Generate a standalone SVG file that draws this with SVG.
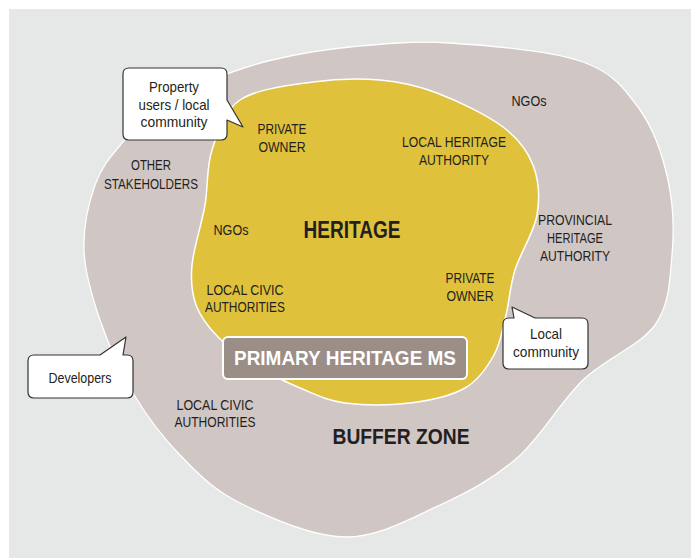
<svg xmlns="http://www.w3.org/2000/svg" width="691" height="558" viewBox="0 0 691 558">
<style>
.t{font-family:"Liberation Sans",Arial,sans-serif;font-size:14.5px;fill:#231f20;text-anchor:middle}
.b{font-family:"Liberation Sans",Arial,sans-serif;font-weight:bold;fill:#231f20;text-anchor:middle}
.w{fill:#ffffff}
.bubble{fill:#ffffff;stroke:#333333;stroke-width:1.2;stroke-linejoin:round}
</style>
<rect x="0" y="0" width="691" height="558" fill="#ffffff"/>
<rect x="9" y="9" width="682" height="549" fill="#e6e7e7"/>
<g id="buffer-zone">
<path fill="#d0c6c4" stroke="#ffffff" stroke-width="1.3" d="M450,43 C488.8,45.5 551.3,50.8 583,62 C614.7,73.2 625.8,90.3 640,110 C654.2,129.7 662.7,155.8 668,180 C673.3,204.2 674.2,230.8 672,255 C669.8,279.2 669.8,304.2 655,325 C640.2,345.8 606,357.8 583,380 C560,402.2 540.8,437.2 517,458 C493.2,478.8 468.7,491.8 440,505 C411.3,518.2 378.3,537.3 345,537 C311.7,536.7 267.5,516.7 240,503 C212.5,489.3 197.8,473.3 180,455 C162.2,436.7 146.3,415.5 133,393 C119.7,370.5 108.2,343.8 100,320 C91.8,296.2 84.8,272.5 84,250 C83.2,227.5 88.7,202.8 95,185 C101.3,167.2 110.8,156.2 122,143 C133.2,129.8 147,116.5 162,106 C177,95.5 193.7,87.7 212,80 C230.3,72.3 249,65.5 272,60 C295,54.5 320.3,49.8 350,47 C379.7,44.2 411.2,40.5 450,43 Z"/>
<text class="t" x="529" y="106" textLength="35" lengthAdjust="spacingAndGlyphs">NGOs</text>
<text class="t" x="151" y="170" textLength="40" lengthAdjust="spacingAndGlyphs">OTHER</text>
<text class="t" x="151" y="189" textLength="94" lengthAdjust="spacingAndGlyphs">STAKEHOLDERS</text>
<text class="t" x="575" y="225" textLength="74" lengthAdjust="spacingAndGlyphs">PROVINCIAL</text>
<text class="t" x="575" y="243" textLength="56" lengthAdjust="spacingAndGlyphs">HERITAGE</text>
<text class="t" x="575" y="261" textLength="70" lengthAdjust="spacingAndGlyphs">AUTHORITY</text>
<text class="t" x="215" y="410" textLength="77" lengthAdjust="spacingAndGlyphs">LOCAL CIVIC</text>
<text class="t" x="215" y="427" textLength="81" lengthAdjust="spacingAndGlyphs">AUTHORITIES</text>
<text class="b" x="401" y="444" font-size="21.5" textLength="137" lengthAdjust="spacingAndGlyphs">BUFFER ZONE</text>
</g>
<g id="heritage">
<path fill="#dfc13b" stroke="#ffffff" stroke-width="1.5" d="M240,100 C256.8,88.7 289.7,85.3 313,82 C336.3,78.7 359.3,78.2 380,80 C400.7,81.8 416.5,85.2 437,93 C457.5,100.8 487,115 503,127 C519,139 527.3,150.3 533,165 C538.7,179.7 540,197.5 537,215 C534,232.5 520.2,253.3 515,270 C509.8,286.7 509.5,300.8 506,315 C502.5,329.2 500.8,342.8 494,355 C487.2,367.2 479,380 465,388 C451,396 430,400.5 410,403 C390,405.5 363.3,405.5 345,403 C326.7,400.5 315,394.3 300,388 C285,381.7 268.7,373.5 255,365 C241.3,356.5 227.8,347 218,337 C208.2,327 200.3,317 196,305 C191.7,293 190.5,281.7 192,265 C193.5,248.3 201.7,224.2 205,205 C208.3,185.8 206.2,167.5 212,150 C217.8,132.5 223.2,111.3 240,100 Z"/>
<text class="t" x="282" y="134" textLength="49" lengthAdjust="spacingAndGlyphs">PRIVATE</text>
<text class="t" x="282" y="152" textLength="47" lengthAdjust="spacingAndGlyphs">OWNER</text>
<text class="t" x="454" y="147" textLength="104" lengthAdjust="spacingAndGlyphs">LOCAL HERITAGE</text>
<text class="t" x="454" y="165" textLength="70" lengthAdjust="spacingAndGlyphs">AUTHORITY</text>
<text class="t" x="231" y="235" textLength="35" lengthAdjust="spacingAndGlyphs">NGOs</text>
<text class="b" x="352" y="238" font-size="23" textLength="97" lengthAdjust="spacingAndGlyphs">HERITAGE</text>
<text class="t" x="245" y="295" textLength="77" lengthAdjust="spacingAndGlyphs">LOCAL CIVIC</text>
<text class="t" x="245" y="312" textLength="80" lengthAdjust="spacingAndGlyphs">AUTHORITIES</text>
<text class="t" x="470" y="283" textLength="49" lengthAdjust="spacingAndGlyphs">PRIVATE</text>
<text class="t" x="470" y="301" textLength="47" lengthAdjust="spacingAndGlyphs">OWNER</text>
</g>
<g id="primary-heritage-ms">
<rect x="223" y="337" width="244" height="42" rx="5" fill="#9b8e87" stroke="#ffffff" stroke-width="2"/>
<text class="b w" x="345" y="365" font-size="20" textLength="222" lengthAdjust="spacingAndGlyphs">PRIMARY HERITAGE MS</text>
</g>
<g id="bubble-property-users">
<path class="bubble" d="M129,68 H221 Q227,68 227,74 V100 L243,127 L227,120 V134 Q227,140 221,140 H129 Q123,140 123,134 V74 Q123,68 129,68 Z"/>
<text class="t" x="174" y="92" textLength="50" lengthAdjust="spacingAndGlyphs">Property</text>
<text class="t" x="174" y="110" textLength="71" lengthAdjust="spacingAndGlyphs">users / local</text>
<text class="t" x="174" y="127" textLength="67" lengthAdjust="spacingAndGlyphs">community</text>
</g>
<g id="bubble-developers">
<path class="bubble" d="M34,355 H100 L126,337 L123,355 H127 Q133,355 133,361 V392 Q133,398 127,398 H34 Q28,398 28,392 V361 Q28,355 34,355 Z"/>
<text class="t" x="80" y="383" textLength="63" lengthAdjust="spacingAndGlyphs">Developers</text>
</g>
<g id="bubble-local-community">
<path class="bubble" d="M503,324 Q503,318 509,318 H514 L512,307 L535,318 H582 Q588,318 588,324 V363 Q588,369 582,369 H509 Q503,369 503,363 Z"/>
<text class="t" x="546" y="339" textLength="32" lengthAdjust="spacingAndGlyphs">Local</text>
<text class="t" x="546" y="357" textLength="66" lengthAdjust="spacingAndGlyphs">community</text>
</g>
<g id="connectors"/>
</svg>
